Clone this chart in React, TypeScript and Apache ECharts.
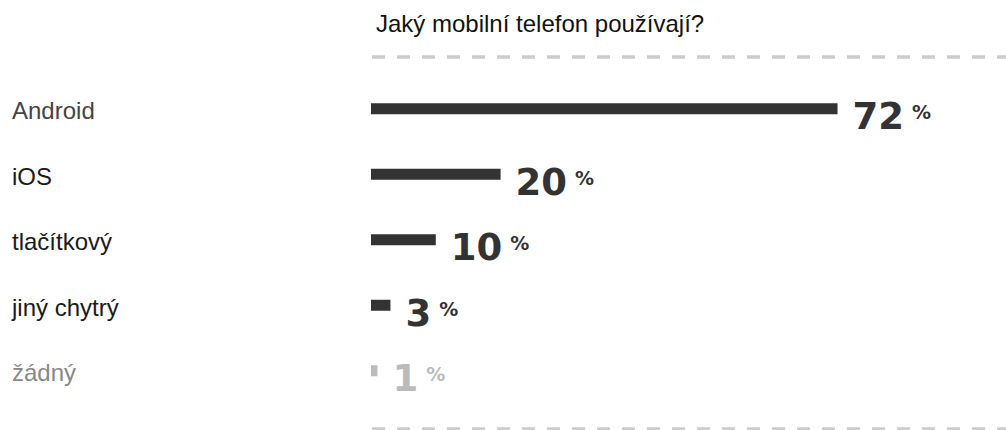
import React, { useEffect, useRef } from "react";
import * as echarts from "echarts";

const title = "Jaký mobilní telefon používají?";
const categories = ["Android", "iOS", "tlačítkový", "jiný chytrý", "žádný"];
const values = [72, 20, 10, 3, 1];
const mutedCategory = "žádný";

const DARK = "#333333";
const MUTED = "#bbbbbb";
const SANS = "Liberation Sans, Arial, sans-serif";
const NUM = "DejaVu Sans, sans-serif";

export default function App() {
  const ref = useRef<HTMLDivElement>(null);
  useEffect(() => {
    if (!ref.current) return;
    const chart = echarts.init(ref.current, undefined, { renderer: "svg" });
    const dash = {
      stroke: "#cccccc",
      lineWidth: 3.5,
      lineDash: [13, 12],
    };
    const valueStyle = (color: string) => ({
      fontFamily: NUM,
      fontWeight: "bold",
      fontSize: 37,
      lineHeight: 40,
      color,
    });
    const pctStyle = (color: string) => ({
      fontFamily: NUM,
      fontWeight: "bold",
      fontSize: 19,
      lineHeight: 19,
      color,
      verticalAlign: "top",
      padding: [6, 0, 0, 8],
    });
    chart.setOption({
      animation: false,
      backgroundColor: "#ffffff",
      title: {
        text: title,
        left: 371,
        top: 6,
        textStyle: {
          fontFamily: SANS,
          fontSize: 24,
          fontWeight: "normal",
          color: "#111111",
        },
      },
      graphic: [
        { type: "line", shape: { x1: 372, y1: 57, x2: 1010, y2: 57 }, style: dash, silent: true },
        { type: "line", shape: { x1: 372, y1: 429, x2: 1010, y2: 429 }, style: dash, silent: true },
      ],
      grid: { left: 371, right: 0, top: 76, height: 327.5 },
      xAxis: {
        type: "value",
        min: 0,
        max: 98,
        show: false,
      },
      yAxis: {
        type: "category",
        inverse: true,
        data: categories,
        axisLine: { show: false },
        axisTick: { show: false },
        splitLine: { show: false },
        axisLabel: {
          align: "left",
          margin: 359,
          padding: [4, 0, 0, 0],
          formatter: (v: string) =>
            v === mutedCategory ? `{g|${v}}` : v === categories[0] ? `{a|${v}}` : `{b|${v}}`,
          rich: {
            a: { fontFamily: SANS, fontSize: 24, color: "#444444" },
            b: { fontFamily: SANS, fontSize: 24, color: "#1a1a1a" },
            g: { fontFamily: SANS, fontSize: 24, color: "#888888" },
          },
        },
      },
      series: [
        {
          type: "bar",
          barWidth: 11,
          data: values.map((v, i) => ({
            value: v,
            itemStyle: { color: categories[i] === mutedCategory ? MUTED : DARK },
          })),
          label: {
            show: true,
            position: "right",
            distance: 15,
            offset: [0, 8],
            formatter: (p: any) => {
              const muted = categories[p.dataIndex] === mutedCategory;
              return muted ? `{vm|${p.value}}{pm|%}` : `{v|${p.value}}{p|%}`;
            },
            rich: {
              v: valueStyle(DARK),
              p: pctStyle(DARK),
              vm: valueStyle(MUTED),
              pm: pctStyle(MUTED),
            },
          },
        },
      ],
    });
    return () => chart.dispose();
  }, []);
  return (
    <div
      ref={ref}
      style={{ position: "fixed", left: 0, top: 0, width: 1006, height: 430 }}
    />
  );
}
